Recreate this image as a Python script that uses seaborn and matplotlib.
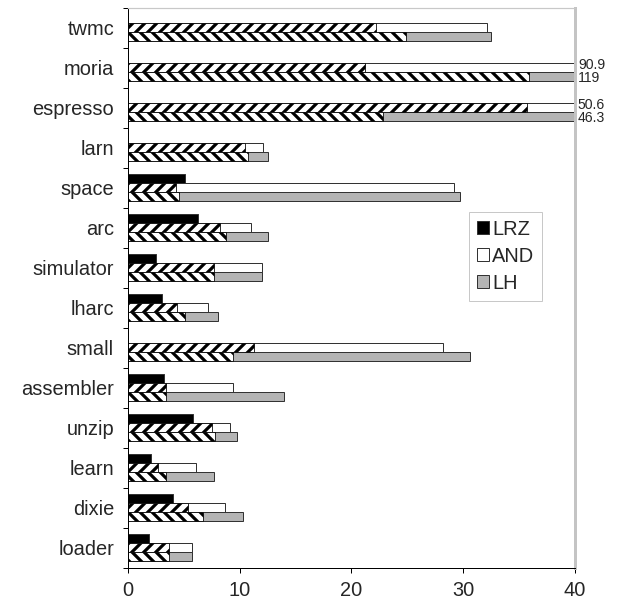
import pandas as pd
import seaborn as sns
import matplotlib.pyplot as plt

programs = ['twmc', 'moria', 'espresso', 'larn', 'space', 'arc', 'simulator',
            'lharc', 'small', 'assembler', 'unzip', 'learn', 'dixie', 'loader']
series = ['LRZ', 'AND', 'LH']

# full bar lengths
lrz = [0, 0, 0, 0, 5.1, 6.3, 2.5, 3.0, 0, 3.2, 5.8, 2.1, 4.0, 1.9]
and_total = [32.1, 90.9, 50.6, 12.1, 29.2, 11.0, 12.0, 7.2, 28.2, 9.4, 9.1, 6.1, 8.7, 5.7]
lh_total = [32.5, 119, 46.3, 12.5, 29.7, 12.5, 12.0, 8.1, 30.6, 14.0, 9.8, 7.7, 10.3, 5.7]

# hatched part of the AND / LH bars
and_part = [22.2, 21.2, 35.7, 10.5, 4.3, 8.2, 7.7, 4.4, 11.3, 3.4, 7.5, 2.7, 5.4, 3.7]
lh_part = [24.9, 35.9, 22.8, 10.7, 4.6, 8.8, 7.7, 5.1, 9.4, 3.4, 7.8, 3.4, 6.7, 3.7]
lrz_part = [0] * len(programs)

xmax = 40

df = pd.DataFrame({'program': programs * 3,
                   'series': ['LRZ'] * 14 + ['AND'] * 14 + ['LH'] * 14,
                   'value': lrz + and_total + lh_total})
df_part = pd.DataFrame({'program': programs * 3,
                        'series': ['LRZ'] * 14 + ['AND'] * 14 + ['LH'] * 14,
                        'value': lrz_part + and_part + lh_part})

sns.set_theme(style='white')
plt.rcParams['font.family'] = ['Liberation Sans', 'DejaVu Sans']
plt.rcParams['hatch.linewidth'] = 3.2
plt.rcParams['hatch.color'] = 'black'

fig = plt.figure(figsize=(629 / 72, 608 / 72), dpi=72)
ax = fig.add_axes([0.2035, 0.066, 0.7105, 0.921])

bw = 0.675
sns.barplot(data=df, x='value', y='program', hue='series', hue_order=series,
            order=programs, orient='h', width=bw, saturation=1, errorbar=None,
            palette={'LRZ': 'black', 'AND': 'white', 'LH': '#b4b4b4'},
            edgecolor='#333333', linewidth=1, ax=ax)
sns.barplot(data=df_part, x='value', y='program', hue='series', hue_order=series,
            order=programs, orient='h', width=bw, saturation=1, errorbar=None,
            palette={'LRZ': 'white', 'AND': 'white', 'LH': 'white'},
            edgecolor='black', linewidth=0.8, legend=False, ax=ax)

for bar in ax.containers[4]:
    bar.set_hatch('//')
for bar in ax.containers[5]:
    bar.set_hatch('\\\\')

ax.set_xlim(0, xmax)
ax.set_ylim(len(programs) - 0.5, -0.5)
ax.set_xticks([0, 10, 20, 30, 40])
ax.set_xlabel('')
ax.set_ylabel('')
ax.set_yticks([i + 0.5 for i in range(-1, len(programs))], minor=True)
ax.tick_params(axis='y', which='major', length=0, pad=14, labelsize=20)
ax.tick_params(axis='y', which='minor', length=5, width=1, color='black', direction='out', left=True)
ax.tick_params(axis='x', length=5, width=1, color='black', direction='out', bottom=True,
               labelsize=20, pad=8)

for s in ['left', 'bottom']:
    ax.spines[s].set_color('black')
    ax.spines[s].set_linewidth(1)
ax.spines['right'].set_color('#c4c4c4')
ax.spines['right'].set_linewidth(3)
ax.spines['top'].set_color('#c8c8c8')
ax.spines['top'].set_linewidth(1.2)

# values of bars that run past the axis
step = bw / 3
for i, (a, h) in enumerate(zip(and_total, lh_total)):
    if a > xmax:
        ax.annotate(f'{a:g}', xy=(1, i), xycoords=('axes fraction', 'data'),
                    xytext=(3, 3), textcoords='offset points', va='center', fontsize=14)
    if h > xmax:
        ax.annotate(f'{h:g}', xy=(1, i + step), xycoords=('axes fraction', 'data'),
                    xytext=(3, -1), textcoords='offset points', va='center', fontsize=14)

handles, labels = ax.get_legend_handles_labels()
ax.legend(handles[:3], labels[:3], loc='upper left', bbox_to_anchor=(0.763, 0.636),
          fontsize=20, frameon=True, fancybox=False, edgecolor='#bbbbbb',
          handlelength=0.6, handleheight=0.6, handletextpad=0.15,
          borderpad=0.4, labelspacing=0.4, borderaxespad=0)

fig.savefig('out.png', dpi=72)
